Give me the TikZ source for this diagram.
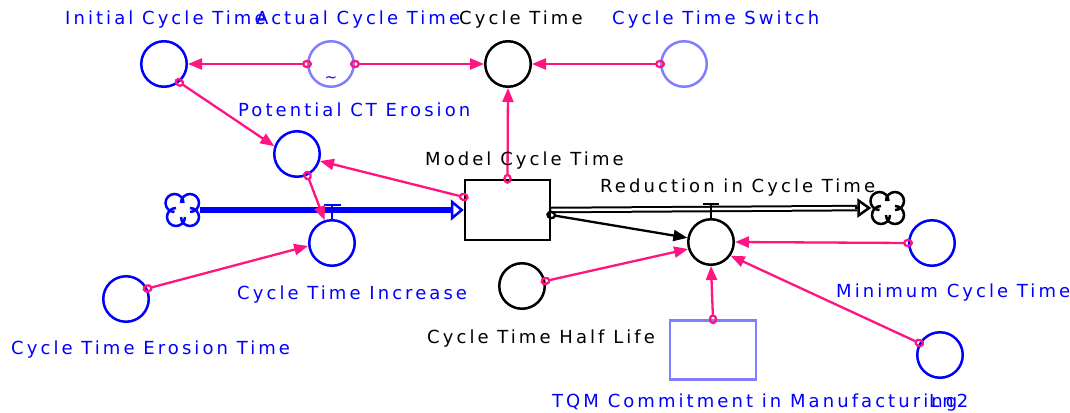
\documentclass[tikz,border=0pt]{standalone}
\usepackage{fontspec}
\setmainfont{DejaVu Sans}[LetterSpace=17]
\usetikzlibrary{arrows.meta,calc}
\definecolor{vblue}{RGB}{0,0,255}
\definecolor{lblue}{RGB}{128,128,255}
\definecolor{vpink}{RGB}{255,20,130}
\tikzset{
  aux/.style={circle,draw,line width=2.5pt,minimum size=45.5pt,inner sep=0pt},
  lab/.style={inner sep=0pt,anchor=base west,font=\fontsize{18}{18}\selectfont},
  link/.style={draw=vpink,line width=2.3pt,
    {Circle[open,length=10pt,width=8.5pt]}-{Triangle[length=14pt,width=11pt]},shorten <=-5pt},
  blink/.style={draw=black,line width=2.3pt,
    {Circle[open,length=10pt,width=8.5pt]}-{Triangle[length=14pt,width=11pt]},shorten <=-5pt},
  cloudpt/.style={circle,minimum size=33pt,inner sep=0pt}
}
\newcommand\vcloud[2]{%
  \begin{scope}[shift={(#1)},x=1pt,y=1pt,draw=#2,line width=2.5pt]
    \draw (0.5,7) arc[start angle=0,end angle=270,radius=9];
    \draw (7,-2) arc[start angle=-90,end angle=180,radius=9];
    \draw (-2,-7) arc[start angle=180,end angle=450,radius=9];
    \draw (-7,2) arc[start angle=90,end angle=360,radius=9];
  \end{scope}}
\begin{document}
\begin{tikzpicture}[x=1pt,y=-1pt]
\useasboundingbox[fill=white] (0,0) rectangle (1070,412);
% auxiliaries
\node[aux,vblue] (init) at (164,64) {};
\node[aux,lblue] (act) at (331,64) {};
\node[vblue,inner sep=0pt,font=\fontsize{15}{15}\selectfont] (tl) at (331,80) {\~{}};
\node[aux,black] (ct) at (508,64) {};
\node[aux,lblue] (sw) at (684,64) {};
\node[aux,vblue] (pot) at (297,154) {};
\node[aux,vblue] (inc) at (332,243) {};
\node[aux,vblue] (ero) at (126,299) {};
\node[aux,black] (hl) at (522,286) {};
\node[aux,black] (red) at (711,242) {};
\node[aux,vblue] (min) at (932,243) {};
\node[aux,vblue] (ln2) at (940,355) {};
% stock and constant box
\node[draw,line width=2.5pt,minimum width=85pt,minimum height=60pt,inner sep=0pt] (stock) at (507.5,210) {};
\node[draw=lblue,line width=2.5pt,minimum width=86pt,minimum height=59pt,inner sep=0pt] (tqm) at (713,350) {};
% clouds
\node[cloudpt] (cL) at (183,210) {};
\node[cloudpt] (cR) at (888,208) {};
\vcloud{cL.center}{vblue}
\vcloud{cR.center}{black}
% inflow
\draw[vblue,line width=6pt,-{Triangle[open,length=13pt,width=21pt,line width=2.5pt]}] (cL.east) -- (stock.west);
\draw[vblue,line width=2.5pt] (inc.north) -- (332,205) (324,205) -- (341,205);
% outflow
\draw[line width=2pt,double=white,double distance=2.5pt,shorten >=14pt] (stock.east) -- (cR.west);
\draw[line width=2.5pt,-{Triangle[open,length=14pt,width=19pt,line width=2.5pt]}] ([xshift=-16pt]cR.west) -- (cR.west);
\draw[line width=2.5pt] (red.north) -- (711,204) (703,204) -- (719,204);
% links
\draw[link] (act.west) -- (init.east);
\draw[link] (act.east) -- (ct.west);
\draw[link] (sw.west) -- (ct.east);
\draw[link] (init.-50) -- (pot.161);
\draw[link] ($(stock.west)+(0,-13)$) -- (pot.-17);
\draw[link] (stock.north) -- (ct.south);
\draw[link] (pot.-64) -- (inc.108);
\draw[link] (ero.26) -- (inc.187);
\draw[blink] ($(stock.east)+(0,5)$) -- (red.170);
\draw[link] (hl.12) -- (red.197);
\draw[link] (min.west) -- (red.east);
\draw[link] (tqm.north) -- (red.south);
\draw[link] (ln2.150) -- (red.-35);
% labels
\node[lab,vblue] (l1) at (65,25) {Initial Cycle Time};
\node[lab,vblue] (l2) at (256,25) {Actual Cycle Time};
\node[lab,black] (l3) at (459,25) {Cycle Time};
\node[lab,vblue] (l4) at (612,25) {Cycle Time Switch};
\node[lab,vblue] (l5) at (238,116) {Potential CT Erosion};
\node[lab,black] (l6) at (425,165) {Model Cycle Time};
\node[lab,black] (l7) at (600,192) {Reduction in Cycle Time};
\node[lab,vblue] (l8) at (237,299) {Cycle Time Increase};
\node[lab,vblue] (l9) at (836,297) {Minimum Cycle Time};
\node[lab,vblue] (l10) at (11,354) {Cycle Time Erosion Time};
\node[lab,black] (l11) at (427,343) {Cycle Time Half Life};
\node[lab,vblue] (l12) at (552,407) {TQM Commitment in Manufacturing};
\node[lab,vblue] (l13) at (929,407) {Ln2};
\end{tikzpicture}
\end{document}
